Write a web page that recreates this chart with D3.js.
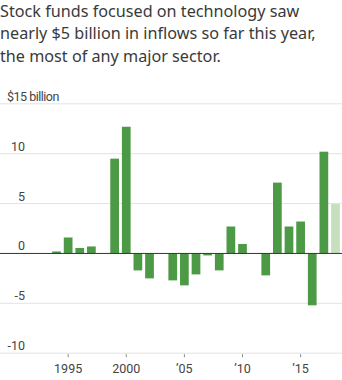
<!DOCTYPE html>
<html>
<head>
<meta charset="utf-8">
<script src="https://cdn.jsdelivr.net/npm/d3@7"></script>
<style>
  body { margin: 0; background: #fff; }
  svg { display: block; }
</style>
</head>
<body>
<svg id="chart"></svg>
<script>
// Tech stock fund flows, $ billion (2018 = year to date)
const years = d3.range(1994, 2019);
const flows = [0.2, 1.6, 0.55, 0.7, null, 9.5, 12.7, -1.7, -2.5, null,
               -2.7, -3.2, -2.1, -0.2, -1.7, 2.7, 0.95, null, -2.2, 7.1,
               2.7, 3.2, -5.2, 10.2, 4.95];
const yTicks = [15, 10, 5, 0, -5, -10];
const xTicks = [1995, 2000, 2005, 2010, 2015];
const xTickLabels = ["1995", "2000", "\u201905", "\u201910", "\u201915"];
const title = [
    "Stock funds focused on technology saw",
    "nearly $5 billion in inflows so far this year,",
    "the most of any major sector."
];

const width = 342, height = 380;
const svg = d3.select("#chart").attr("width", width).attr("height", height);

const x = d3.scaleBand()
    .domain(years)
    .range([50.7, 341.3])
    .paddingInner(0.25)
    .paddingOuter(0.125);

const y = d3.scaleLinear()
    .domain([-10, 15])
    .range([353.2, 103.8]);

// title
svg.append("g").selectAll("text")
    .data(title)
    .enter().append("text")
    .attr("x", 0)
    .attr("y", (d, i) => 16.5 + i * 22.5)
    .attr("font-family", "Noto Sans")
    .attr("font-size", 16.2)
    .attr("fill", "#3a3a3a")
    .text(d => d);

// gridlines
svg.append("g").selectAll("line")
    .data(yTicks.filter(d => d !== 0))
    .enter().append("line")
    .attr("x1", 0).attr("x2", width)
    .attr("y1", d => y(d)).attr("y2", d => y(d))
    .attr("stroke", "#e3e3e3")
    .attr("stroke-width", 1);

// y labels
svg.append("g").selectAll("text")
    .data(yTicks)
    .enter().append("text")
    .attr("x", d => d === 15 ? 7 : 25)
    .attr("y", d => y(d) - 3)
    .attr("text-anchor", d => d === 15 ? "start" : "end")
    .attr("font-family", "Roboto")
    .attr("font-size", 12.5)
    .attr("letter-spacing", d => d === 15 ? -0.5 : 0)
    .attr("fill", "#444")
    .text(d => d === 15 ? "$15 billion" : d);

// bars
const data = years.map((yr, i) => ({ year: yr, value: flows[i] }))
    .filter(d => d.value !== null);

svg.append("g").selectAll("rect")
    .data(data)
    .enter().append("rect")
    .attr("x", d => x(d.year))
    .attr("width", x.bandwidth())
    .attr("y", d => y(Math.max(0, d.value)))
    .attr("height", d => Math.abs(y(d.value) - y(0)))
    .attr("fill", d => d.year === 2018 ? "#c6dfbd" : "#4c9a46");

// zero line
svg.append("line")
    .attr("x1", 0).attr("x2", width)
    .attr("y1", y(0)).attr("y2", y(0))
    .attr("stroke", "#333")
    .attr("stroke-width", 1);

// x axis
const xAxis = svg.append("g").attr("transform", `translate(0,${y(-10)})`);
xAxis.selectAll("line")
    .data(xTicks)
    .enter().append("line")
    .attr("x1", d => x(d) + x.bandwidth() / 2)
    .attr("x2", d => x(d) + x.bandwidth() / 2)
    .attr("y1", 1).attr("y2", 4)
    .attr("stroke", "#888");
xAxis.selectAll("text")
    .data(xTicks)
    .enter().append("text")
    .attr("x", d => x(d) + x.bandwidth() / 2)
    .attr("y", 20)
    .attr("text-anchor", "middle")
    .attr("font-family", "Roboto")
    .attr("font-size", 12.5)
    .attr("fill", "#444")
    .text((d, i) => xTickLabels[i]);
</script>
</body>
</html>
